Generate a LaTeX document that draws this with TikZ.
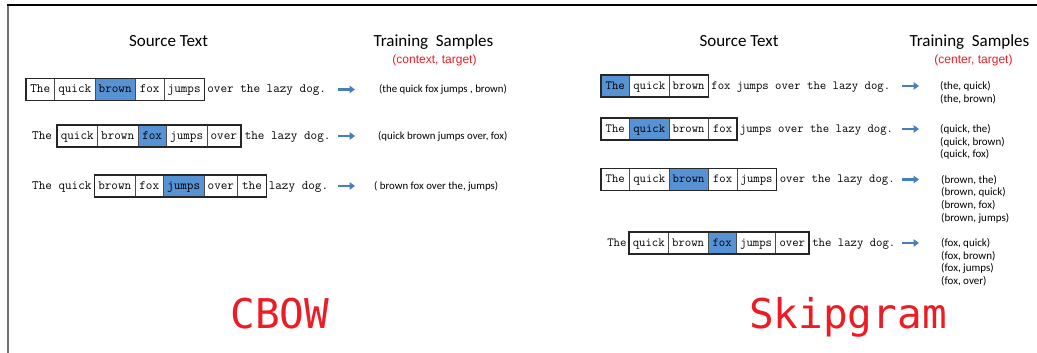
\documentclass[tikz,border=0pt]{standalone}
\usepackage{fontspec}
\setmainfont{Carlito}
\newfontfamily\arialfont{Liberation Sans}
\newfontfamily\consfont{DejaVu Sans Mono}
\usetikzlibrary{positioning,arrows.meta}
\definecolor{wblue}{RGB}{86,146,212}
\definecolor{arrblue}{RGB}{74,126,187}
\definecolor{tred}{RGB}{237,28,36}
\begin{document}
\begin{tikzpicture}[x=1pt,y=-1pt,
  cbtxt/.style={font=\ttfamily\fontsize{12.8}{14}\selectfont},
  sgtxt/.style={font=\ttfamily\fontsize{12.4}{14}\selectfont},
  word/.style={inner xsep=3.75pt, inner ysep=0pt, outer sep=0pt, text height=8pt, text depth=1.5pt, minimum height=22pt},
  wbox/.style={word, draw=black!70, line width=0.7pt, minimum width=28.5pt},
  hit/.style={wbox, fill=wblue},
  free/.style={inner sep=0pt, outer sep=0pt, text height=8pt, text depth=1.5pt},
  win/.style={draw=black!85, line width=1.5pt},
  arr/.style={draw=arrblue, line width=2.8pt, -{Triangle[length=5.5pt,width=7.5pt]}},
  head/.style={font=\fontsize{17}{19}\selectfont, inner sep=0pt, anchor=base},
  sub/.style={font=\arialfont\fontsize{12}{14}\selectfont, text=tred, inner sep=0pt, anchor=base},
  smp/.style={font=\fontsize{10.8}{12}\selectfont, inner sep=0pt, anchor=west},
  sgs/.style={font=\fontsize{11}{12.6}\selectfont, inner sep=0pt, align=left, anchor=north west},
  big/.style={font=\consfont\fontsize{41}{45}\selectfont, text=tred, inner sep=0pt, anchor=base}
]
\useasboundingbox (0,0) rectangle (1037,353);
% frame
\draw[black!55, line width=2pt] (7.8,5) -- (7.8,353);
\draw[black, line width=1.3pt] (7,5) -- (1037,5);

% ---------- CBOW headings ----------
\node[head] (h1) at (168.5,47) {Source Text};
\node[head] (h2) at (433.5,47) {Training~ Samples};
\node[sub] (h3) at (434.5,64) {(context, target)};

% CBOW row 1
\node[wbox, cbtxt, anchor=west] (a1) at (26,89.5) {The};
\node[wbox, cbtxt, right=0pt of a1] (a2) {quick};
\node[hit, cbtxt, right=0pt of a2] (a3) {brown};
\node[wbox, cbtxt, right=0pt of a3] (a4) {fox};
\node[wbox, cbtxt, right=0pt of a4] (a5) {jumps};
\draw[win] (a1.north west) rectangle (a5.south east);
\node[free, cbtxt, right=3pt of a5] (a6) {over the lazy dog.};
\coordinate (a7) at (338,89.5);
\coordinate (a8) at (355,89.5);
\draw[arr] (a7) -- (a8);
\node[smp] (a9) at (379,89.5) {(the quick fox jumps , brown)};

% CBOW row 2
\node[wbox, cbtxt, anchor=west] (b1) at (57,136) {quick};
\node[free, cbtxt, left=5pt of b1] (b0) {The};
\node[wbox, cbtxt, right=0pt of b1] (b2) {brown};
\node[hit, cbtxt, right=0pt of b2] (b3) {fox};
\node[wbox, cbtxt, right=0pt of b3] (b4) {jumps};
\node[wbox, cbtxt, right=0pt of b4] (b5) {over};
\draw[win] (b1.north west) rectangle (b5.south east);
\node[free, cbtxt, right=4pt of b5] (b6) {the lazy dog.};
\coordinate (b7) at (338,136);
\coordinate (b8) at (355,136);
\draw[arr] (b7) -- (b8);
\node[smp] (b9) at (378,136) {(quick brown jumps over, fox)};

% CBOW row 3
\node[wbox, cbtxt, anchor=west] (c1) at (94.5,186) {brown};
\node[free, cbtxt, left=3pt of c1] (c0) {The quick};
\node[wbox, cbtxt, right=0pt of c1] (c2) {fox};
\node[hit, cbtxt, right=0pt of c2] (c3) {jumps};
\node[wbox, cbtxt, right=0pt of c3] (c4) {over};
\node[wbox, cbtxt, right=0pt of c4] (c5) {the};
\draw[win] (c1.north west) rectangle (c5.south east);
\node[free, cbtxt, right=2.5pt of c5] (c6) {lazy dog.};
\coordinate (c7) at (338,186);
\coordinate (c8) at (355,186);
\draw[arr] (c7) -- (c8);
\node[smp] (c9) at (374,186) {( brown fox over the, jumps)};

\node[big] (cbow) at (280,328) {CBOW};

% ---------- Skipgram headings ----------
\node[head] (k1) at (739,47) {Source Text};
\node[head] (k2) at (969.5,47) {Training~ Samples};
\node[sub] (k3) at (973.5,64) {(center, target)};

% Skip row 1
\node[hit, sgtxt, anchor=west] (d1) at (601,86) {The};
\node[wbox, sgtxt, right=0pt of d1] (d2) {quick};
\node[wbox, sgtxt, right=0pt of d2] (d3) {brown};
\draw[win] (d1.north west) rectangle (d3.south east);
\node[free, sgtxt, right=3pt of d3] (d6) {fox jumps over the lazy dog.};
\coordinate (d7) at (902,86);
\coordinate (d8) at (919,86);
\draw[arr] (d7) -- (d8);
\node[sgs] (d9) at (940,80.5) {\rule{0pt}{9pt}(the, quick)\\(the, brown)};

% Skip row 2
\node[wbox, sgtxt, anchor=west] (e1) at (601,129) {The};
\node[hit, sgtxt, right=0pt of e1] (e2) {quick};
\node[wbox, sgtxt, right=0pt of e2] (e3) {brown};
\node[wbox, sgtxt, right=0pt of e3] (e4) {fox};
\draw[win] (e1.north west) rectangle (e4.south east);
\node[free, sgtxt, right=3pt of e4] (e6) {jumps over the lazy dog.};
\coordinate (e7) at (902,129);
\coordinate (e8) at (919,129);
\draw[arr] (e7) -- (e8);
\node[sgs] (e9) at (940,123.5) {\rule{0pt}{9pt}(quick, the)\\(quick, brown)\\(quick, fox)};

% Skip row 3
\node[wbox, sgtxt, anchor=west] (f1) at (601,179.5) {The};
\node[wbox, sgtxt, right=0pt of f1] (f2) {quick};
\node[hit, sgtxt, right=0pt of f2] (f3) {brown};
\node[wbox, sgtxt, right=0pt of f3] (f4) {fox};
\node[wbox, sgtxt, right=0pt of f4] (f5) {jumps};
\draw[win] (f1.north west) rectangle (f5.south east);
\node[free, sgtxt, right=3.5pt of f5] (f6) {over the lazy dog.};
\coordinate (f7) at (902,179.5);
\coordinate (f8) at (919,179.5);
\draw[arr] (f7) -- (f8);
\node[sgs] (f9) at (941,174) {\rule{0pt}{9pt}(brown, the)\\(brown, quick)\\(brown, fox)\\(brown, jumps)};

% Skip row 4
\node[wbox, sgtxt, anchor=west] (g1) at (629,243) {quick};
\node[free, sgtxt, left=2.5pt of g1] (g0) {The};
\node[wbox, sgtxt, right=0pt of g1] (g2) {brown};
\node[hit, sgtxt, right=0pt of g2] (g3) {fox};
\node[wbox, sgtxt, right=0pt of g3] (g4) {jumps};
\node[wbox, sgtxt, right=0pt of g4] (g5) {over};
\draw[win] (g1.north west) rectangle (g5.south east);
\node[free, sgtxt, right=3.5pt of g5] (g6) {the lazy dog.};
\coordinate (g7) at (902,243);
\coordinate (g8) at (919,243);
\draw[arr] (g7) -- (g8);
\node[sgs] (g9) at (941,237.5) {\rule{0pt}{9pt}(fox, quick)\\(fox, brown)\\(fox, jumps)\\(fox, over)};

\node[big] (skip) at (848,328) {Skipgram};
\end{tikzpicture}
\end{document}
